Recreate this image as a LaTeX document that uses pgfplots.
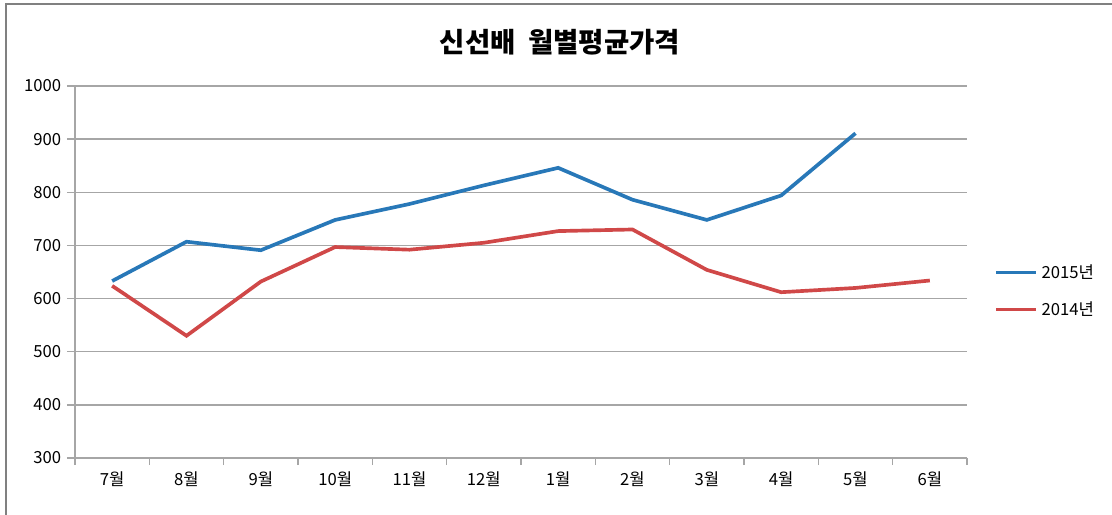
\documentclass[border=0pt]{standalone}
\usepackage{fontspec}
\setmainfont{Noto Sans CJK KR}
\usepackage{pgfplots}
\pgfplotsset{compat=1.18}
\definecolor{s2015}{RGB}{40,120,184}
\definecolor{s2014}{RGB}{208,72,72}
\definecolor{gridc}{RGB}{166,166,166}
\definecolor{framec}{RGB}{128,128,128}

\begin{document}
\begin{tikzpicture}[x=0.6pt,y=0.6pt]
\useasboundingbox (0,0) rectangle (1112,514);
\draw[framec, line width=1.2pt] (6,-5) -- (6,510) -- (1120,510);
\node[font=\bfseries\fontsize{16.5}{19}\selectfont] at (560,472) {신선배\ \ 월별평균가격};
\begin{axis}[
    at={(45pt,33.6pt)}, anchor=south west,
    scale only axis,
    width=535.2pt, height=223.2pt,
    xmin=-0.5, xmax=11.5,
    ymin=300, ymax=1000,
    ytick={300,400,...,1000},
    xtick={0,...,11},
    xticklabels={7월,8월,9월,10월,11월,12월,1월,2월,3월,4월,5월,6월},
    minor xtick={-0.5,0.5,...,11.5},
    major x tick style={draw=none},
    tick align=outside,
    major tick length=4.8pt,
    minor tick length=4.2pt,
    tick style={gridc, line width=0.8pt},
    axis x line*=bottom,
    axis y line*=left,
    axis line style={-, draw=gridc, line width=0.8pt},
    ymajorgrids,
    grid style={gridc, line width=0.8pt},
    tick label style={font=\fontsize{10}{12}\selectfont},
    /pgf/number format/assume math mode=true,
    /pgf/number format/1000 sep={},
    legend style={at={(rel axis cs:1.025,0.449)}, anchor=west, draw=none, fill=none,
        font=\fontsize{10}{12}\selectfont, row sep=8.5pt},
    legend cell align=left,
    legend image code/.code={\draw[#1] (0pt,0pt) -- (24pt,0pt);},
    every axis plot/.append style={line width=2.2pt},
]
\addplot[s2015] coordinates {
    (0,633) (1,707) (2,691) (3,748) (4,778) (5,813)
    (6,846) (7,786) (8,748) (9,794) (10,911)
};
\addlegendentry{2015년}
\addplot[s2014] coordinates {
    (0,624) (1,530) (2,632) (3,697) (4,692) (5,705)
    (6,727) (7,730) (8,654) (9,612) (10,620) (11,634)
};
\addlegendentry{2014년}
\end{axis}
\end{tikzpicture}
\end{document}
